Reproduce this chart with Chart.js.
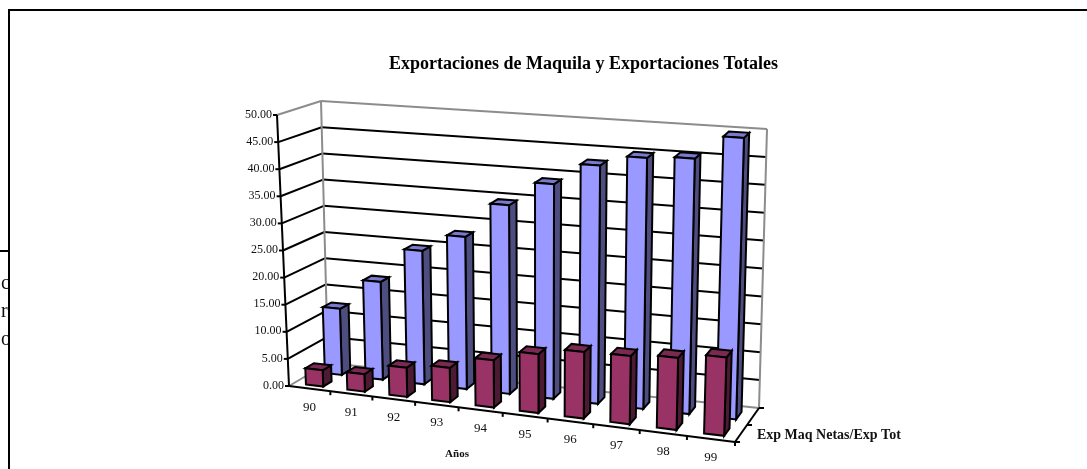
<!DOCTYPE html>
<html>
<head>
<meta charset="utf-8">
<title>Exportaciones de Maquila y Exportaciones Totales</title>
<script src="https://cdn.jsdelivr.net/npm/chart.js@4"></script>
<style>
  html, body { margin: 0; padding: 0; background: #fff; }
  #page { position: relative; width: 1087px; height: 469px; overflow: hidden; }
  #chart { position: absolute; left: 0; top: 0; }
  .frame-top { position: absolute; left: 8px; top: 9px; width: 1079px; height: 2px; background: #000; }
  .frame-left { position: absolute; left: 8px; top: 9px; width: 2px; height: 460px; background: #000; }
  .rule { position: absolute; left: 0; top: 250px; width: 8px; height: 2px; background: #000; }
  .cut { position: absolute; left: 0; top: 268px; width: 8px; height: 84px; overflow: hidden;
         font: 20px/28px "Liberation Serif", serif; color: #111; }
  .cut div { width: 20px; padding-left: 1px; }
</style>
</head>
<body>
<div id="page">
  <canvas id="chart" width="1087" height="469"></canvas>
  <div class="frame-top"></div>
  <div class="frame-left"></div>
  <div class="rule"></div>
  <div class="cut"><div>c</div><div>r</div><div>o</div></div>
</div>
<script>
const years = ['90', '91', '92', '93', '94', '95', '96', '97', '98', '99'];
const expTotales = [12.4, 18.2, 24.7, 28, 34.5, 39, 43, 45, 45.5, 49.8];
const expMaquila = [3, 3.2, 5.3, 6.2, 8.5, 10.5, 11.8, 12, 12.6, 13.6];
const yMax = 50;
const yStep = 5;

const chartTitle = 'Exportaciones de Maquila y Exportaciones Totales';
const xTitle = 'Años';
const depthLabel = 'Exp Maq Netas/Exp Tot';

const serif = '"Liberation Serif", serif';

// corners of the 3d box on screen: f/b = front/back, l/r = left/right, 0/1 = floor/top
const box = {
  fl0: [289, 386], fl1: [277, 115],
  fr0: [735, 442], fr1: [744, 152],
  bl0: [328, 363], bl1: [321, 101],
  br0: [759, 408], br1: [767, 129],
};
const foreshorten = -0.08;

const lerp = (a, b, t) => [a[0] + (b[0] - a[0]) * t, a[1] + (b[1] - a[1]) * t];

// u along the years, w into the depth, v up the value axis (all 0..1)
function project(u, w, v) {
  const pu = u * (1 + foreshorten) / (1 + foreshorten * u);
  const front = lerp(lerp(box.fl0, box.fr0, pu), lerp(box.fl1, box.fr1, pu), v);
  const back = lerp(lerp(box.bl0, box.br0, pu), lerp(box.bl1, box.br1, pu), v);
  return lerp(front, back, w);
}

function line(ctx, a, b, color, width) {
  ctx.beginPath();
  ctx.moveTo(a[0], a[1]);
  ctx.lineTo(b[0], b[1]);
  ctx.strokeStyle = color;
  ctx.lineWidth = width;
  ctx.stroke();
}

function face(ctx, pts, fill) {
  ctx.beginPath();
  pts.forEach((p, i) => (i ? ctx.lineTo(p[0], p[1]) : ctx.moveTo(p[0], p[1])));
  ctx.closePath();
  ctx.fillStyle = fill;
  ctx.fill();
  ctx.strokeStyle = '#000';
  ctx.lineWidth = 2;
  ctx.stroke();
}

const box3d = {
  id: 'box3d',
  beforeDatasetsDraw(chart) {
    const { ctx, chartArea: area, scales } = chart;
    const toU = px => (px - area.left) / (area.right - area.left);
    const toV = px => (area.bottom - px) / (area.bottom - area.top);
    const gridGray = '#8c8c8c';

    ctx.save();
    ctx.lineJoin = 'miter';

    // walls and gridlines
    scales.y.ticks.forEach(tick => {
      const v = toV(scales.y.getPixelForValue(tick.value));
      const edge = tick.value === 0 || tick.value === yMax;
      const color = edge ? gridGray : '#000';
      line(ctx, project(0, 0, v), project(0, 1, v), color, 2);
      line(ctx, project(0, 1, v), project(1, 1, v), color, 2);
    });
    line(ctx, project(0, 1, 0), project(0, 1, 1), gridGray, 2);
    line(ctx, project(1, 1, 0), project(1, 1, 1), gridGray, 2);

    // axes with their tick marks
    line(ctx, project(0, 0, 0), project(0, 0, 1), '#000', 2);
    line(ctx, project(0, 0, 0), project(1, 0, 0), '#000', 2);
    line(ctx, project(1, 0, 0), project(1, 1, 0), '#000', 2);
    ctx.textBaseline = 'middle';
    ctx.fillStyle = '#111';
    ctx.font = '12px ' + serif;
    ctx.textAlign = 'right';
    scales.y.ticks.forEach(tick => {
      const p = project(0, 0, toV(scales.y.getPixelForValue(tick.value)));
      line(ctx, p, [p[0] - 4, p[1]], '#000', 2);
      ctx.fillText(tick.value.toFixed(2), p[0] - 5, p[1] - 0.5);
    });
    ctx.textAlign = 'center';
    ctx.font = '13px ' + serif;
    years.forEach((year, i) => {
      const px = scales.x.getPixelForValue(i);
      const cell = scales.x.getPixelForValue(1) - scales.x.getPixelForValue(0);
      const tickAt = project(toU(px + cell / 2), 0, 0);
      line(ctx, tickAt, [tickAt[0], tickAt[1] + 4], '#000', 2);
      const p = project(toU(px), 0, 0);
      ctx.fillText(year, p[0], p[1] + 18.5);
    });
    [0, 0.5, 1].forEach(w => {
      const p = project(1, w, 0);
      line(ctx, p, [p[0] + 5, p[1]], '#000', 2);
    });

    ctx.font = 'bold 11px ' + serif;
    ctx.fillText(xTitle, 457, 454);
    ctx.font = 'bold 14px ' + serif;
    ctx.textAlign = 'left';
    ctx.fillText(depthLabel, 757, 435.5);

    // bars, back row first
    chart.data.datasets.forEach((set, d) => {
      const [w0, w1] = set.depthRange;
      chart.getDatasetMeta(d).data.forEach(bar => {
        const u0 = toU(bar.x - bar.width / 2);
        const u1 = toU(bar.x + bar.width / 2);
        const top = toV(bar.y);
        const floor = toV(bar.base);
        face(ctx, [project(u1, w0, floor), project(u1, w1, floor), project(u1, w1, top), project(u1, w0, top)], set.sideColor);
        face(ctx, [project(u0, w0, top), project(u1, w0, top), project(u1, w1, top), project(u0, w1, top)], set.topColor);
        face(ctx, [project(u0, w0, floor), project(u1, w0, floor), project(u1, w0, top), project(u0, w0, top)], set.backgroundColor);
      });
    });

    ctx.restore();
    return false;
  },
};

new Chart(document.getElementById('chart'), {
  type: 'bar',
  data: {
    labels: years,
    datasets: [
      {
        label: 'Exp Tot',
        data: expTotales,
        backgroundColor: '#9999ff',
        sideColor: '#4d4d80',
        topColor: '#7a7acc',
        depthRange: [0.62, 0.84],
      },
      {
        label: depthLabel,
        data: expMaquila,
        backgroundColor: '#993366',
        sideColor: '#4d1a33',
        topColor: '#7a2952',
        depthRange: [0.13, 0.35],
      },
    ],
  },
  options: {
    responsive: false,
    animation: false,
    events: [],
    layout: { padding: { left: 80, top: 54 } },
    datasets: { bar: { grouped: false, categoryPercentage: 1, barPercentage: 0.42 } },
    scales: {
      x: { display: false },
      y: { display: false, min: 0, max: yMax, ticks: { stepSize: yStep } },
    },
    plugins: {
      legend: { display: false },
      tooltip: { enabled: false },
      title: {
        display: true,
        text: chartTitle,
        color: '#000',
        padding: 0,
        font: { family: serif, size: 18, weight: 'bold' },
      },
    },
  },
  plugins: [box3d],
});
</script>
</body>
</html>
